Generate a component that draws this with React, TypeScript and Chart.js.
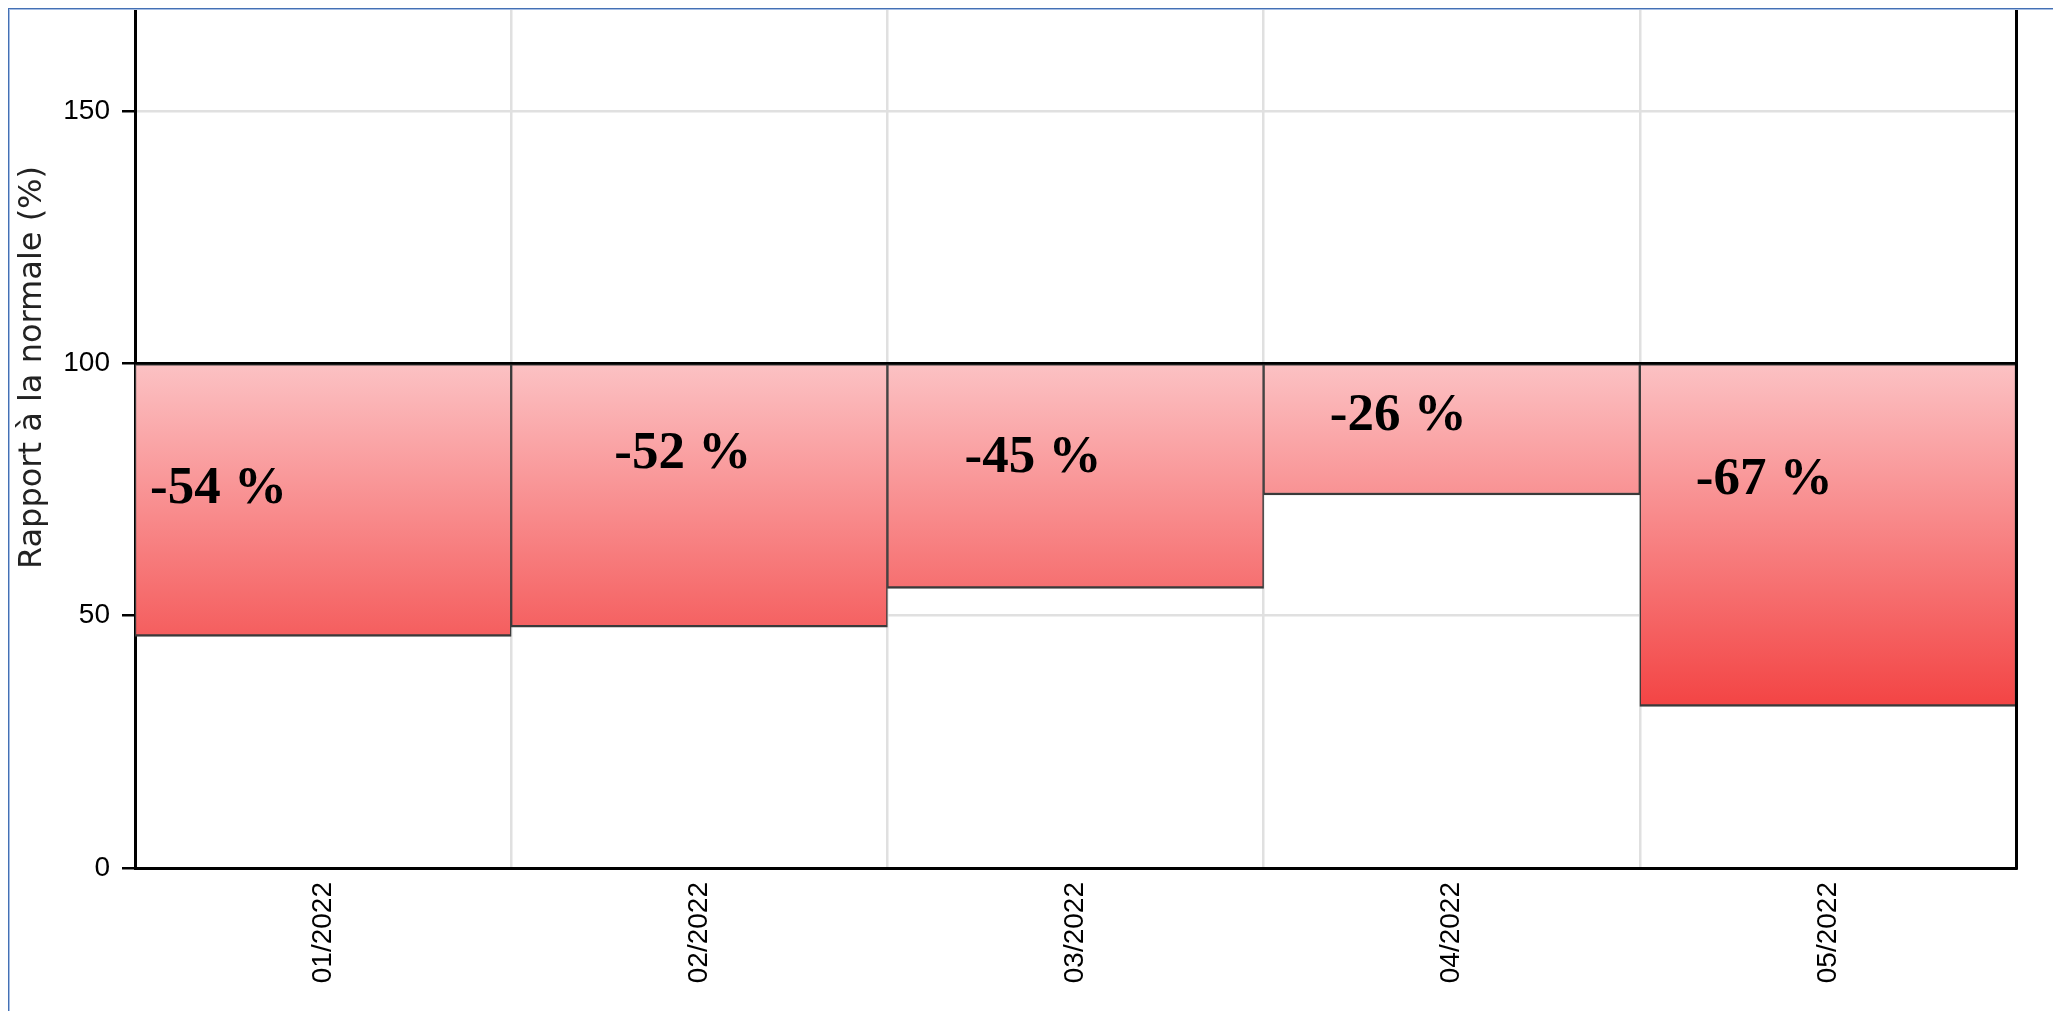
import React, { useEffect, useRef } from "react";
import { Chart, registerables } from "chart.js";

Chart.register(...registerables);

// ---- data ----
const categories = ["01/2022", "02/2022", "03/2022", "04/2022", "05/2022"];
const normalValue = 100;
const ratioValues = [45.9, 47.7, 55.4, 73.9, 32.0];
const deviationLabels = ["-54 %", "-52 %", "-45 %", "-26 %", "-67 %"];
const yTickValues = [0, 50, 100, 150];
const yMin = 0;
const yMax = 170;
const yAxisTitle = "Rapport à la normale (%)";

// label anchor positions (category index units / value units)
const labelIndexPos = [-0.278, 0.956, 1.887, 2.858, 3.831];
const labelValuePos = [75.1, 82.0, 81.2, 89.5, 76.8];

const W = 2053;
const H = 1011;

export default function App() {
  const ref = useRef<HTMLCanvasElement | null>(null);

  useEffect(() => {
    document.body.style.margin = "0";
    const canvas = ref.current;
    if (!canvas) return;

    const overlay = {
      id: "overlay",
      afterDraw(chart: any) {
        const { ctx, chartArea, scales } = chart;
        const x = scales.x;
        const y = scales.y;
        ctx.save();
        // normal reference line
        const y100 = y.getPixelForValue(normalValue);
        ctx.strokeStyle = "#000";
        ctx.lineWidth = 2.5;
        ctx.beginPath();
        ctx.moveTo(chartArea.left, y100);
        ctx.lineTo(chartArea.right, y100);
        ctx.stroke();
        // right border
        ctx.lineWidth = 3;
        ctx.beginPath();
        ctx.moveTo(chartArea.right + 0.5, chartArea.top);
        ctx.lineTo(chartArea.right + 0.5, chartArea.bottom + 1.5);
        ctx.stroke();
        // labels
        ctx.fillStyle = "#000";
        ctx.font = "bold 53px 'Liberation Serif', serif";
        ctx.textAlign = "center";
        ctx.textBaseline = "middle";
        const step = x.getPixelForValue(1) - x.getPixelForValue(0);
        deviationLabels.forEach((t, i) => {
          const px = x.getPixelForValue(0) + labelIndexPos[i] * step;
          const py = y.getPixelForValue(labelValuePos[i]);
          ctx.fillText(t, px, py);
        });
        // y axis title
        ctx.font = "32px 'DejaVu Sans', sans-serif";
        ctx.fillStyle = "#222";
        ctx.textAlign = "center";
        ctx.textBaseline = "alphabetic";
        ctx.translate(41, 367.5);
        ctx.rotate(-Math.PI / 2);
        ctx.fillText(yAxisTitle, 0, 0);
        ctx.restore();
      },
    };

    const chart = new Chart(canvas, {
      type: "bar",
      data: {
        labels: categories,
        datasets: [
          {
            data: ratioValues.map((v) => [normalValue, v]) as any,
            backgroundColor: (c: any) => {
              const ch = c.chart;
              if (!ch.chartArea) return "#f88";
              const ys = ch.scales.y;
              const g = ch.ctx.createLinearGradient(
                0,
                ys.getPixelForValue(100),
                0,
                ys.getPixelForValue(32)
              );
              g.addColorStop(0, "rgb(252,194,196)");
              g.addColorStop(1, "rgb(243,68,68)");
              return g;
            },
            borderColor: "#3a3a3a",
            borderWidth: { left: 1.5, right: 1.5, top: 2.5, bottom: 2.5 } as any,
            borderSkipped: false,
            barPercentage: 1,
            categoryPercentage: 1,
          },
        ],
      },
      options: {
        responsive: false,
        animation: false,
        layout: { padding: { left: 0, top: 10, right: 37, bottom: 0 } },
        plugins: {
          legend: { display: false },
          tooltip: { enabled: false },
        },
        scales: {
          x: {
            grid: {
              color: "#e0e0e0",
              lineWidth: 2.5,
              drawTicks: false,
              offset: true,
            },
            border: { color: "#000", width: 3 },
            ticks: {
              minRotation: 90,
              maxRotation: 90,
              padding: 14,
              color: "#000",
              font: { family: "'Liberation Sans Narrow', 'Liberation Sans', sans-serif", size: 28 },
            },
            afterFit: (s: any) => {
              s.height = H - 868;
              s.paddingLeft = 0;
              s.paddingRight = 0;
            },
          },
          y: {
            min: yMin,
            max: yMax,
            afterBuildTicks: (s: any) => {
              s.ticks = yTickValues.map((v) => ({ value: v }));
            },
            grid: {
              color: "#e0e0e0",
              lineWidth: 2.5,
              tickColor: "#000",
              tickLength: 13,
            },
            border: { color: "#000", width: 3 },
            ticks: {
              padding: 12,
              color: "#000",
              font: { family: "'Liberation Sans Narrow', 'Liberation Sans', sans-serif", size: 28 },
            },
            afterFit: (s: any) => {
              s.width = 135;
              s.paddingTop = 0;
              s.paddingBottom = 0;
            },
          },
        },
      },
      plugins: [overlay],
    });

    return () => chart.destroy();
  }, []);

  return (
    <div style={{ position: "absolute", left: 0, top: 0, width: W, height: H, background: "#fff" }}>
      <canvas ref={ref} width={W} height={H} style={{ position: "absolute", left: 0, top: 0, width: W, height: H }} />
      <div
        style={{
          position: "absolute",
          left: 8,
          top: 8,
          right: 0,
          bottom: 0,
          borderLeft: "1px solid #4470b4",
          borderTop: "1px solid #4470b4",
          boxShadow: "inset 1px 1px 0 #a6bee4",
          pointerEvents: "none",
        }}
      />
    </div>
  );
}
